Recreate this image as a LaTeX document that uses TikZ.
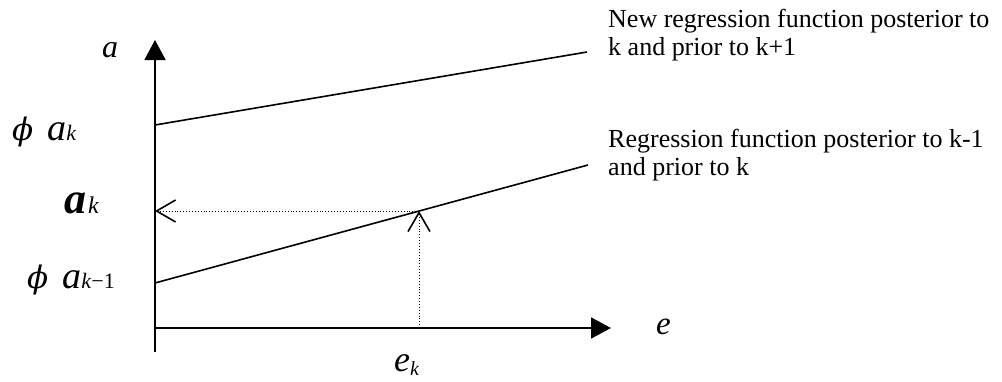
\documentclass[tikz,border=0pt]{standalone}
\usepackage{amsmath}
\usepackage{fontspec}
\setmainfont{Liberation Serif}
\newfontfamily\phifont{DejaVu Serif}
\usetikzlibrary{arrows.meta}

\tikzset{
    axis/.style={line width=1.8pt,-{Triangle[length=20pt,width=21pt]}},
    regline/.style={line width=1.6pt},
    readoff/.style={line width=0.9pt,dotted,-{Straight Barb[length=19pt,width=22pt,line width=1.6pt]}},
    sidetext/.style={anchor=base west,inner sep=0pt,font=\fontsize{26}{28}\selectfont,align=left},
    lab/.style={anchor=base west,inner sep=0pt}
}
\newcommand{\phisym}{{\phifont\itshape\fontsize{31}{31}\selectfont ϕ}}

\begin{document}
\begin{tikzpicture}[x=1pt,y=-1pt]
            \useasboundingbox (0,0) rectangle (1002,381);

            % axes
            \coordinate (O) at (155,328);
            \coordinate (abot) at (155,352);
            \coordinate (atop) at (155,40);
            \coordinate (eend) at (611,328);
            \draw[axis] (abot)--(atop);
            \draw[axis] (O)--(eend);

            % regression lines
            \coordinate (newL) at (155,125);
            \coordinate (newR) at (587,52);
            \coordinate (oldL) at (155,283);
            \coordinate (oldR) at (588,165);
            \draw[regline] (newL)--(newR);
            \draw[regline] (oldL)--(oldR);

            % reading off a_k at e_k
            \coordinate (ek) at (419,328);
            \coordinate (hit) at (419,211);
            \coordinate (ak) at (155,211);
            \draw[readoff] (ek)--(hit);
            \draw[readoff] (hit)--(ak);

            \node[lab] (alab) at (102,57) {\fontsize{32}{32}\selectfont\textit{a}};
            \node[lab] (elab) at (656,334) {\fontsize{33}{33}\selectfont\textit{e}};
            \node[lab] (eklab) at (394,371) {\fontsize{36}{36}\selectfont\textit{e}\raisebox{-4pt}{\fontsize{20}{20}\selectfont\textit{k}}};

            \node[lab] (phiak) at (12,140) {\phisym\hspace{14pt}\fontsize{38}{38}\selectfont\textit{a}\fontsize{22}{22}\selectfont\textit{k}};
            \node[lab] (aklab) at (64,213) {\fontsize{44}{44}\selectfont\textbf{\textit{a}}\hspace{2pt}\fontsize{24}{24}\selectfont\textit{k}};
            \node[lab] (phiak1) at (27,288) {\phisym\hspace{14pt}\fontsize{38}{38}\selectfont\textit{a}\fontsize{22}{22}\selectfont\textit{k}\raisebox{0pt}{−}1};

            \node[sidetext] (newtxt) at (608,55) {New regression function posterior to\\k and prior to k+1};
            \node[sidetext] (oldtxt) at (608,175) {Regression function posterior to k-1\\and prior to k};
        \end{tikzpicture}
\end{document}
